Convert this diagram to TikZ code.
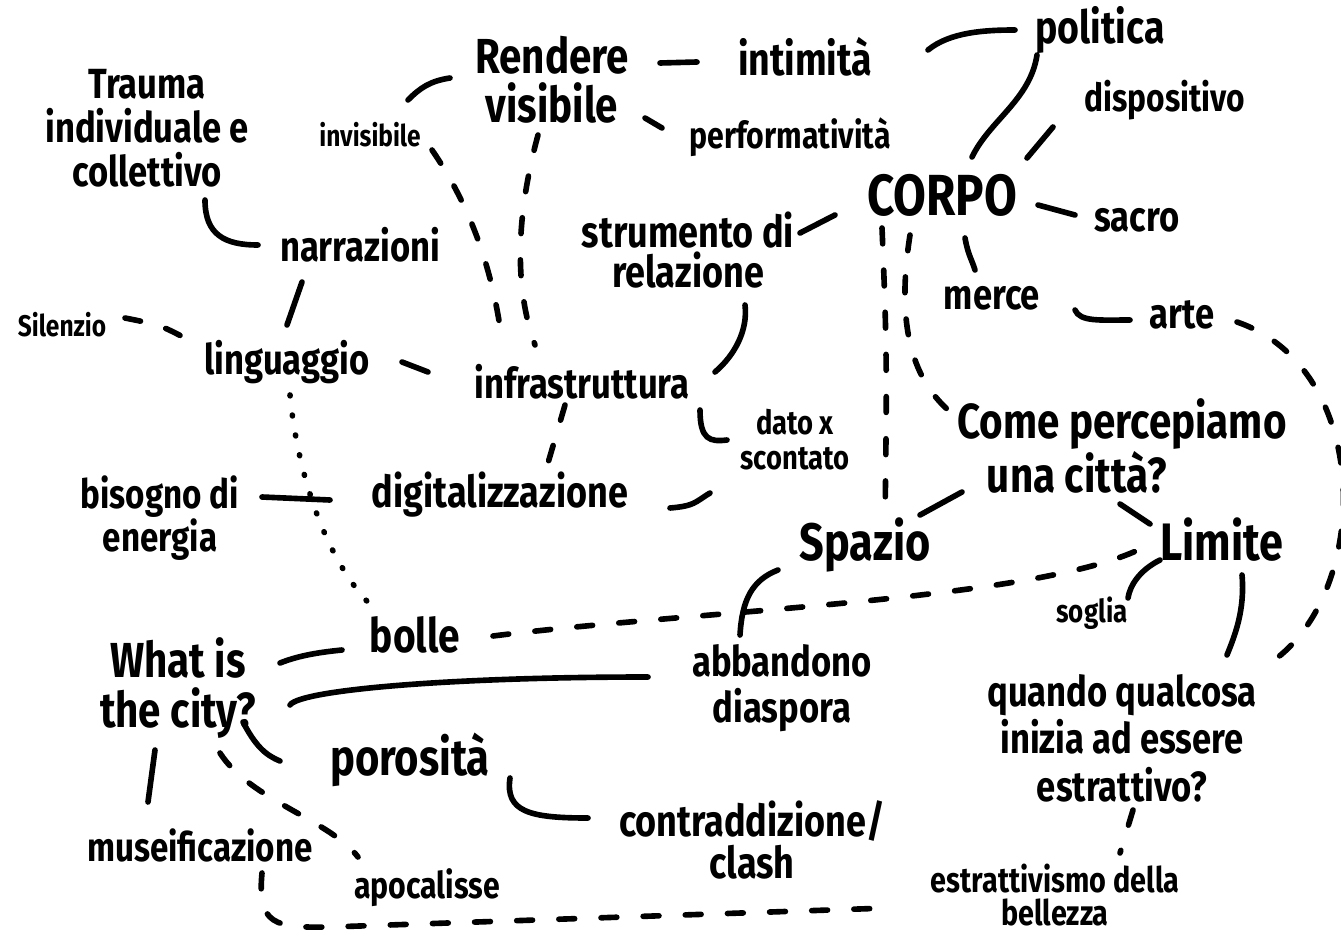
\documentclass[tikz,border=0pt]{standalone}
\usepackage{fontspec}
\newfontfamily\handfont{Fira Sans}[FakeStretch=0.82]
\tikzset{
  lbl/.style={inner sep=0pt, align=center, text=black},
  fs/.style 2 args={font=\handfont\bfseries\fontsize{#1}{#2}\selectfont},
  conn/.style={line width=3.2pt, line cap=round, black},
  dsh/.style={conn, dash pattern=on 9pt off 15pt},
  dots/.style={conn, dash pattern=on 0.5pt off 11pt},
}
\begin{document}
\begin{tikzpicture}[x=0.02cm,y=-0.02cm]
\fill[white] (0,0) rectangle (1341,942);
\useasboundingbox (0,0) rectangle (1341,942);
% nodes
\node[lbl,fs={24}{25}] (trauma) at (147,128) {Trauma\\individuale e\\collettivo};
\node[lbl,fs={17}{19}] (invis) at (370,135) {invisibile};
\node[lbl,fs={28}{28}] (rendere) at (552,80) {Rendere\\visibile};
\node[lbl,fs={26}{28}] (intim) at (805,57) {intimità};
\node[lbl,fs={26}{28}] (polit) at (1100,30) {politica};
\node[lbl,fs={21}{23}] (perf) at (790,137) {performatività};
\node[lbl,fs={22}{24}] (disp) at (1165,100) {dispositivo};
\node[lbl,fs={33}{35}] (corpo) at (942,195) {CORPO};
\node[lbl,fs={24}{26}] (sacro) at (1137,220) {sacro};
\node[lbl,fs={24}{26}] (narr) at (360,245) {narrazioni};
\node[lbl,fs={25}{23}] (strum) at (688,250) {strumento di\\relazione};
\node[lbl,fs={17}{19}] (silenz) at (62,325) {Silenzio};
\node[lbl,fs={24}{26}] (lingu) at (287,362) {linguaggio};
\node[lbl,fs={24}{26}] (infra) at (582,382) {infrastruttura};
\node[lbl,fs={24}{26}] (merce) at (992,298) {merce};
\node[lbl,fs={24}{26}] (arte) at (1182,315) {arte};
\node[lbl,fs={19}{20}] (dato) at (795,440) {dato x\\scontato};
\node[lbl,fs={28}{27},align=left] (come) at (1122,446) {Come percepiamo\\\hspace*{0.6em}una città?};
\node[lbl,fs={23}{23}] (bisogno) at (160,518) {bisogno di\\energia};
\node[lbl,fs={25}{27}] (digit) at (500,495) {digitalizzazione};
\node[lbl,fs={30}{32}] (spazio) at (865,545) {Spazio};
\node[lbl,fs={30}{32}] (limite) at (1222,540) {Limite};
\node[lbl,fs={18}{20}] (soglia) at (1092,613) {soglia};
\node[lbl,fs={27}{29}] (bolle) at (415,635) {bolle};
\node[lbl,fs={28}{28}] (what) at (178,688) {What is\\the city?};
\node[lbl,fs={24}{26}] (abb) at (782,688) {abbandono\\diaspora};
\node[lbl,fs={24}{27}] (quando) at (1122,738) {quando qualcosa\\inizia ad essere\\estrattivo?};
\node[lbl,fs={29}{31}] (poros) at (410,760) {porosità};
\node[lbl,fs={23}{25}] (museif) at (200,845) {museificazione};
\node[lbl,fs={25}{24}] (contr) at (752,840) {contraddizione/\\clash};
\node[lbl,fs={21}{23}] (apoc) at (427,888) {apocalisse};
\node[lbl,fs={20}{19}] (estr) at (1055,895) {estrattivismo della\\bellezza};
% connectors
\draw[conn] ([shift={(58,72)}]trauma.center) .. controls +(0,35) and +(-33,0) .. ([shift={(-102,0)}]narr.center);
\draw[conn] ([shift={(-58,37)}]narr.center) -- ([shift={(0,-37)}]lingu.center);
\draw[conn] ([shift={(38,-35)}]invis.center) .. controls +(12,-12) and +(-20,3) .. ([shift={(-102,-2)}]rendere.center);
\draw[dsh] ([shift={(62,15)}]invis.center) .. controls +(48,70) and +(-7,-50) .. ([shift={(-80,-42)}]infra.center);
\draw[dsh] ([shift={(-14,55)}]rendere.center) .. controls +(-23,85) and +(-20,-55) .. ([shift={(-47,-37)}]infra.center);
\draw[conn] ([shift={(108,-17)}]rendere.center) -- ([shift={(-108,5)}]intim.center);
\draw[conn] ([shift={(123,-7)}]intim.center) .. controls +(22,-18) and +(-30,0) .. ([shift={(-85,0)}]polit.center);
\draw[conn] ([shift={(93,38)}]rendere.center) -- ([shift={(-128,-9)}]perf.center);
\draw[conn] ([shift={(-63,25)}]polit.center) .. controls +(-7,45) and +(18,-37) .. ([shift={(30,-38)}]corpo.center);
\draw[conn] ([shift={(-112,27)}]disp.center) -- ([shift={(85,-37)}]corpo.center);
\draw[conn] ([shift={(96,10)}]corpo.center) -- ([shift={(-62,-5)}]sacro.center);
\draw[conn] ([shift={(112,-17)}]strum.center) -- ([shift={(-107,20)}]corpo.center);
\draw[conn] ([shift={(57,55)}]strum.center) .. controls +(3,25) and +(20,-17) .. ([shift={(133,-10)}]infra.center);
\draw[conn] ([shift={(115,0)}]lingu.center) -- ([shift={(-154,-10)}]infra.center);
\draw[conn] ([shift={(118,28)}]infra.center) .. controls +(0,30) and +(-17,2) .. ([shift={(-68,0)}]dato.center);
\draw[conn] ([shift={(-85,53)}]dato.center) .. controls +(-15,9) and +(25,-2) .. ([shift={(170,13)}]digit.center);
\draw[dsh] ([shift={(-17,23)}]infra.center) -- ([shift={(43,-15)}]digit.center);
\draw[dsh] ([shift={(63,-7)}]silenz.center) .. controls +(35,7) and +(-25,-13) .. ([shift={(-102,-24)}]lingu.center);
\draw[dots] ([shift={(3,33)}]lingu.center) .. controls +(8,85) and +(-48,-42) .. ([shift={(-37,-23)}]bolle.center);
\draw[conn] ([shift={(102,-21)}]bisogno.center) -- ([shift={(-170,5)}]digit.center);
\draw[dsh] ([shift={(-60,33)}]corpo.center) .. controls +(5,120) and +(2,-150) .. ([shift={(20,-25)}]spazio.center);
\draw[dsh] ([shift={(-32,40)}]corpo.center) .. controls +(-15,95) and +(-33,-30) .. ([shift={(-174,-36)}]come.center);
\draw[conn] ([shift={(23,43)}]corpo.center) .. controls +(3,17) and +(-3,-10) .. ([shift={(-17,-28)}]merce.center);
\draw[conn] ([shift={(83,12)}]merce.center) .. controls +(5,12) and +(-30,0) .. ([shift={(-52,5)}]arte.center);
\draw[dsh] ([shift={(55,7)}]arte.center) .. controls +(140,48) and +(110,-62) .. ([shift={(140,-70)}]quando.center);
\draw[conn] ([shift={(-160,46)}]come.center) -- ([shift={(55,-30)}]spazio.center);
\draw[conn] ([shift={(-2,58)}]come.center) -- ([shift={(-72,-16)}]limite.center);
\draw[conn] ([shift={(-62,20)}]limite.center) .. controls +(-20,10) and +(2,-13) .. ([shift={(36,-15)}]soglia.center);
\draw[conn] ([shift={(20,35)}]limite.center) .. controls +(3,35) and +(8,-20) .. ([shift={(105,-83)}]quando.center);
\draw[conn] ([shift={(-87,25)}]spazio.center) .. controls +(-26,10) and +(2,-35) .. ([shift={(-42,-53)}]abb.center);
\draw[dsh] ([shift={(78,1)}]bolle.center) .. controls +(207,-26) and +(-98,55) .. ([shift={(-74,5)}]limite.center);
\draw[conn] ([shift={(102,-25)}]what.center) .. controls +(20,-8) and +(-20,2) .. ([shift={(-73,15)}]bolle.center);
\draw[conn] ([shift={(112,17)}]what.center) .. controls +(10,-15) and +(-198,0) .. ([shift={(-134,-11)}]abb.center);
\draw[conn] ([shift={(65,34)}]what.center) .. controls +(12,23) and +(-15,-6) .. ([shift={(-130,1)}]poros.center);
\draw[conn] ([shift={(-23,62)}]what.center) -- ([shift={(-52,-43)}]museif.center);
\draw[dsh] ([shift={(42,65)}]what.center) .. controls +(30,47) and +(-28,-37) .. ([shift={(-69,-31)}]apoc.center);
\draw[conn] ([shift={(100,18)}]poros.center) .. controls +(-5,34) and +(-58,0) .. ([shift={(-164,-22)}]contr.center);
\draw[dsh] ([shift={(62,28)}]museif.center) .. controls +(-5,52) and +(-55,1) .. ([shift={(130,82)}]museif.center) -- ([shift={(-167,13)}]estr.center);
\draw[dsh] ([shift={(11,72)}]quando.center) -- ([shift={(65,-42)}]estr.center);
\end{tikzpicture}
\end{document}
